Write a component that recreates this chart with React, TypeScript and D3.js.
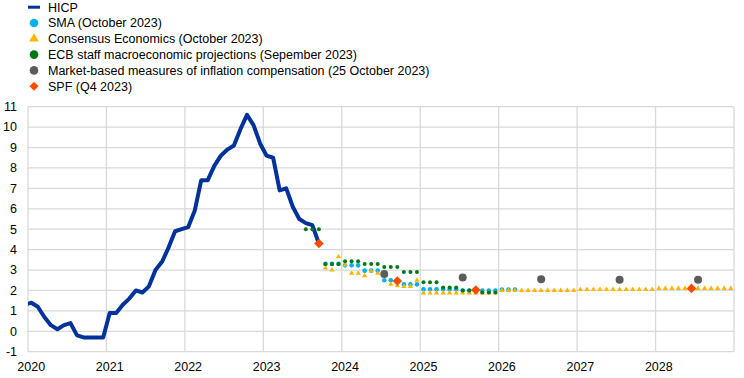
import React from 'react';
import * as d3 from 'd3';

// ---------- data ----------
const yearLabels = ['2020', '2021', '2022', '2023', '2024', '2025', '2026', '2027', '2028'];
const yTicks = [-1, 0, 1, 2, 3, 4, 5, 6, 7, 8, 9, 10, 11];

// HICP, monthly from Dec 2019
const hicpStart = '2019-12';
const hicpValues = [
  1.3,
  1.4, 1.2, 0.7, 0.3, 0.1, 0.3, 0.4, -0.2, -0.3, -0.3, -0.3, -0.3,
  0.9, 0.9, 1.3, 1.6, 2.0, 1.9, 2.2, 3.0, 3.4, 4.1, 4.9, 5.0,
  5.1, 5.9, 7.4, 7.4, 8.1, 8.6, 8.9, 9.1, 9.9, 10.6, 10.1, 9.2,
  8.6, 8.5, 6.9, 7.0, 6.1, 5.5, 5.3, 5.2, 4.3,
];

// SMA (October 2023), monthly from Oct 2023
const smaStart = '2023-10';
const smaValues = [
  3.3, 3.3, 3.3,
  3.23, 3.23, 3.23, 2.97, 2.97, 2.97, 2.5, 2.5, 2.5, 2.3, 2.3, 2.3,
  2.06, 2.06, 2.06, 2.06, 2.06, 2.06, 2.0, 2.0, 2.0, 2.0, 2.0, 2.0,
  2.05, 2.05, 2.05,
];

// Consensus Economics (October 2023), monthly from Oct 2023
const consensusStart = '2023-10';
const consensusValues = [
  3.1, 3.0, 3.65,
  3.25, 2.84, 2.84, 2.72, 2.95, 2.84, 2.75, 2.3, 2.23, 2.19, 2.19, 2.5,
  1.88, 1.88, 1.88, 1.88, 1.88, 1.88, 1.88, 1.88, 1.88, 1.88, 1.88, 1.88,
  2.0, 2.0, 2.0, 2.0, 2.0, 2.0, 2.0, 2.0, 2.0, 2.0, 2.0, 2.0,
  2.05, 2.05, 2.05, 2.05, 2.05, 2.05, 2.05, 2.05, 2.05, 2.05, 2.05, 2.05,
  2.1, 2.1, 2.1, 2.1, 2.1, 2.1, 2.1, 2.1, 2.1, 2.1, 2.1, 2.1,
];

// ECB staff macroeconomic projections (September 2023), monthly from Jul 2023
const ecbStart = '2023-07';
const ecbValues = [
  5.0, 5.0, 5.0,
  3.3, 3.3, 3.3,
  3.43, 3.43, 3.43, 3.3, 3.3, 3.3, 3.15, 3.15, 3.15, 2.9, 2.9, 2.9,
  2.4, 2.4, 2.4, 2.15, 2.15, 2.15, 2.0, 2.0, 2.0, 1.9, 1.9, 1.9,
];

// Market-based measures of inflation compensation (25 October 2023)
const marketDates = ['2024-07', '2025-07', '2026-07', '2027-07', '2028-07'];
const marketValues = [2.8, 2.63, 2.55, 2.52, 2.52];

// SPF (Q4 2023)
const spfDates = ['2023-09', '2024-09', '2025-09', '2028-06'];
const spfValues = [4.3, 2.46, 2.02, 2.1];

const legendLabels = [
  'HICP',
  'SMA (October 2023)',
  'Consensus Economics (October 2023)',
  'ECB staff macroeconomic projections (Sepember 2023)',
  'Market-based measures of inflation compensation (25 October 2023)',
  'SPF (Q4 2023)',
];

// ---------- styles ----------
const C_HICP = '#003299';
const C_SMA = '#00b1ea';
const C_CONS = '#ffb400';
const C_ECB = '#007816';
const C_MKT = '#5c5c5c';
const C_SPF = '#ff4b00';
const GRID = '#d9d9d9';
const FONT = "'Liberation Sans', Arial, sans-serif";
const FS = 12.5;

const W = 744;
const H = 378;
const left = 28;
const right = 734;
const top = 106.7;
const bottom = 351.7;

const monthIndex = (s: string) => {
  const [y, m] = s.split('-').map(Number);
  return (y - 2020) * 12 + (m - 1);
};

const series = (start: string, vals: number[]) =>
  vals.map((v, i) => ({ m: monthIndex(start) + i, v }));
const pointsOf = (dates: string[], vals: number[]) =>
  dates.map((d, i) => ({ m: monthIndex(d), v: vals[i] }));

export default function App() {
  const x = d3.scaleLinear().domain([0, 108]).range([left, right]);
  const y = d3.scaleLinear().domain([-1, 11]).range([bottom, top]);
  const cx = (m: number) => x(m + 0.5);

  const hicp = series(hicpStart, hicpValues);
  const sma = series(smaStart, smaValues);
  const cons = series(consensusStart, consensusValues);
  const ecb = series(ecbStart, ecbValues);
  const mkt = pointsOf(marketDates, marketValues);
  const spf = pointsOf(spfDates, spfValues);

  const line = d3
    .line<{ m: number; v: number }>()
    .x((d) => cx(d.m))
    .y((d) => y(d.v));

  const tri = d3.symbol(d3.symbolTriangle, 12)()!;
  const triLegend = d3.symbol(d3.symbolTriangle, 40)()!;
  const dia = d3.symbol(d3.symbolSquare, 46)()!;
  const diaLegend = d3.symbol(d3.symbolSquare, 40)()!;

  const yearIdx = d3.range(0, 10).map((k) => k * 12);

  const legendY = (i: number) => 7.2 + i * 15.8;
  const lx = 34;

  return (
    <svg
      width={W}
      height={H}
      style={{ position: 'absolute', left: 0, top: 0, background: '#fff' }}
      fontFamily={FONT}
    >
      <defs>
        <clipPath id="plot">
          <rect x={left} y={0} width={right - left} height={H} />
        </clipPath>
      </defs>
      {/* grid */}
      {yTicks.map((t) => (
        <line key={'h' + t} x1={left} x2={right} y1={y(t)} y2={y(t)} stroke={GRID} strokeWidth={1.3} />
      ))}
      {yearIdx.map((m) => (
        <line key={'v' + m} x1={x(m)} x2={x(m)} y1={top} y2={bottom} stroke={GRID} strokeWidth={1.3} />
      ))}
      {/* y labels */}
      {yTicks.map((t) => (
        <text key={'yl' + t} x={17} y={y(t)} dy="0.35em" textAnchor="end" fontSize={FS} fill="#000">
          {t}
        </text>
      ))}
      {/* x labels */}
      {yearLabels.map((l, i) => (
        <text key={'xl' + l} x={cx(i * 12)} y={371} textAnchor="middle" fontSize={FS} fill="#000">
          {l}
        </text>
      ))}
      {/* HICP */}
      <path d={line(hicp)!} fill="none" stroke={C_HICP} strokeWidth={4} strokeLinejoin="round" clipPath="url(#plot)" />
      {/* SMA */}
      {sma.map((d, i) => (
        <circle key={'s' + i} cx={cx(d.m)} cy={y(d.v)} r={2.3} fill={C_SMA} />
      ))}
      {/* Consensus */}
      {cons.map((d, i) => (
        <path key={'c' + i} d={tri} transform={`translate(${cx(d.m)},${y(d.v)})`} fill={C_CONS} />
      ))}
      {/* ECB */}
      {ecb.map((d, i) => (
        <circle key={'e' + i} cx={cx(d.m)} cy={y(d.v)} r={2} fill={C_ECB} />
      ))}
      {/* Market */}
      {mkt.map((d, i) => (
        <circle key={'k' + i} cx={cx(d.m)} cy={y(d.v)} r={4} fill={C_MKT} />
      ))}
      {/* SPF */}
      {spf.map((d, i) => (
        <path key={'p' + i} d={dia} transform={`translate(${cx(d.m)},${y(d.v)}) rotate(45)`} fill={C_SPF} />
      ))}
      {/* legend */}
      <g>
        <line x1={lx - 6} x2={lx + 6} y1={legendY(0)} y2={legendY(0)} stroke={C_HICP} strokeWidth={3} />
        <circle cx={lx} cy={legendY(1)} r={4.3} fill={C_SMA} />
        <path d={triLegend} transform={`translate(${lx},${legendY(2)})`} fill={C_CONS} />
        <circle cx={lx} cy={legendY(3)} r={4.3} fill={C_ECB} />
        <circle cx={lx} cy={legendY(4)} r={4.3} fill={C_MKT} />
        <path d={diaLegend} transform={`translate(${lx},${legendY(5)}) rotate(45)`} fill={C_SPF} />
        {legendLabels.map((l, i) => (
          <text key={'lg' + i} x={48} y={legendY(i)} dy="0.35em" fontSize={FS} fill="#000">
            {l}
          </text>
        ))}
      </g>
    </svg>
  );
}
